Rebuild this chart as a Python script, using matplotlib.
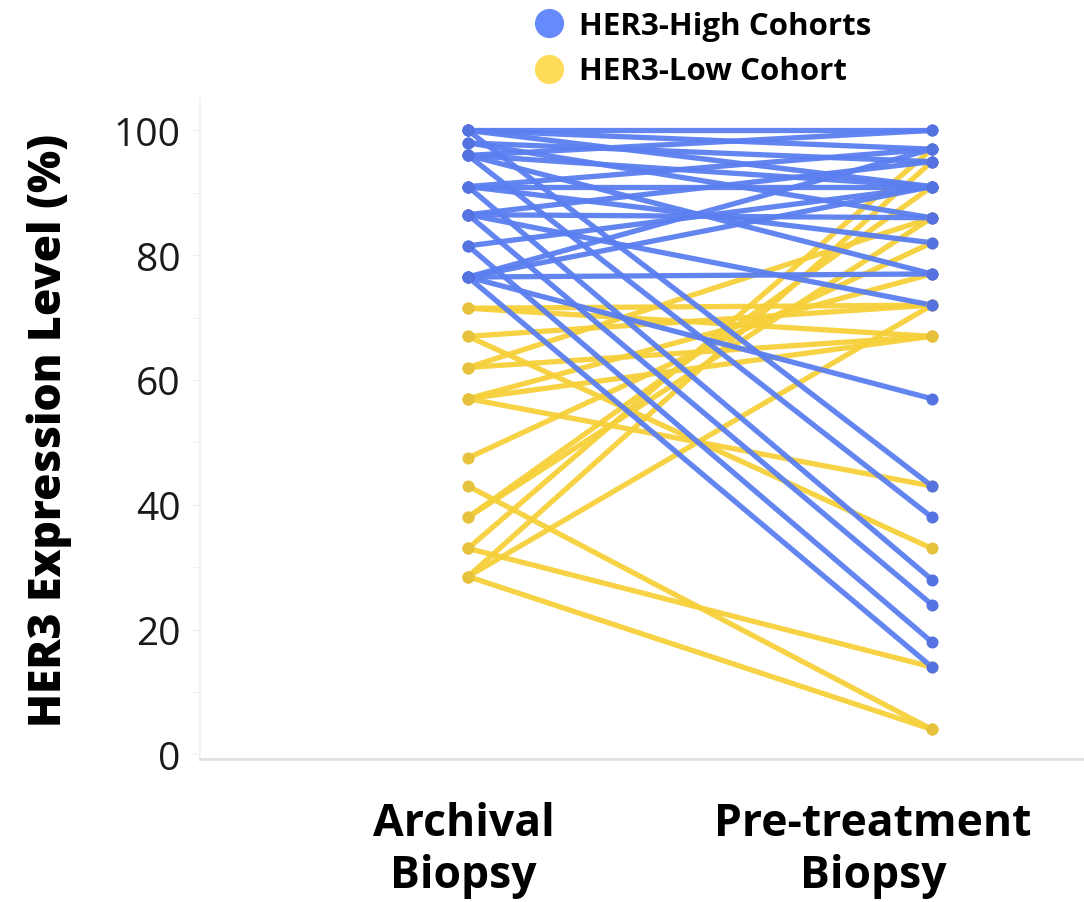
import matplotlib
matplotlib.use("Agg")
import matplotlib.pyplot as plt
from matplotlib.lines import Line2D

# Paired HER3 expression (%) per patient: archival vs pre-treatment biopsy
high_archival = [100, 100, 100, 100, 98, 98, 96, 96, 96, 96, 91, 91, 91, 91,
                 86.5, 86.5, 86.5, 86.5, 81.5, 81.5, 76.5, 76.5, 76.5, 76.5, 76.5]
high_pretreat = [100, 97, 91, 43, 95, 86, 100, 91, 38, 77, 97, 91, 28, 82,
                 95, 86, 24, 72, 91, 18, 97, 91, 77, 14, 57]

low_archival = [71.5, 71.5, 67, 67, 62, 62, 57, 57, 57, 47.5, 43, 38, 38,
                33, 33, 28.5, 28.5, 28.5]
low_pretreat = [67, 72, 72, 33, 67, 86, 43, 77, 67, 82, 4, 91, 86,
                14, 97, 4, 95, 72]

timepoints = ["Archival\nBiopsy", "Pre-treatment\nBiopsy"]
legend_labels = ["HER3-High Cohorts", "HER3-Low Cohort"]
y_ticks = [0, 20, 40, 60, 80, 100]

blue_line, blue_dot = "#5b7ef0", "#5573e0"
gold_line, gold_dot = "#f6d03a", "#e6c23c"

fig = plt.figure(figsize=(10.84, 9.03), dpi=100)
ax = fig.add_axes([0.1845, 0.158, 0.8155, 0.731])

def draw_pairs(a, b, lc, dc):
    for y0, y1 in zip(a, b):
        ax.plot([0, 1], [y0, y1], color=lc, lw=3.8, alpha=0.95,
                solid_capstyle="round", zorder=2)
    ax.scatter([0] * len(a), a, s=75, color=dc, zorder=3, linewidths=0)
    ax.scatter([1] * len(b), b, s=75, color=dc, zorder=3, linewidths=0)

draw_pairs(low_archival, low_pretreat, gold_line, gold_dot)
draw_pairs(high_archival, high_pretreat, blue_line, blue_dot)

ax.set_xlim(-0.578, 1.328)
ax.set_ylim(-0.8, 105)

ax.set_yticks(y_ticks)
ax.set_yticklabels([str(t) for t in y_ticks], fontsize=28,
                   family="Open Sans", color="#1a1a1a")
ax.set_yticks(range(10, 101, 20), minor=True)
ax.tick_params(axis="y", which="both", length=6, color="#eeeeee", pad=8)

ax.set_xticks([-0.01, 0.873])
ax.set_xticklabels(timepoints, fontsize=32, fontweight="bold",
                   family="Open Sans", linespacing=1.2)
ax.tick_params(axis="x", length=0, pad=30)

ax.set_ylabel("HER3 Expression Level (%)", fontsize=32, fontweight="heavy",
              family="Open Sans", labelpad=30)

for side in ("top", "right"):
    ax.spines[side].set_visible(False)
ax.spines["left"].set_color("#f2f2f2")
ax.spines["bottom"].set_color("#e0e0e0")
ax.spines["left"].set_linewidth(1.5)
ax.spines["bottom"].set_linewidth(2)

handles = [Line2D([], [], marker="o", ls="", ms=20, color="#6689fb"),
           Line2D([], [], marker="o", ls="", ms=20, color="#fedc5a")]
fig.legend(handles, legend_labels, loc="upper left",
           bbox_to_anchor=(0.466, 1.018), frameon=False, handletextpad=0.45,
           labelspacing=0.5, handlelength=1.0,
           prop={"family": "Open Sans", "weight": "bold", "size": 22.5})

fig.savefig("out.png", dpi=100, facecolor="white")
